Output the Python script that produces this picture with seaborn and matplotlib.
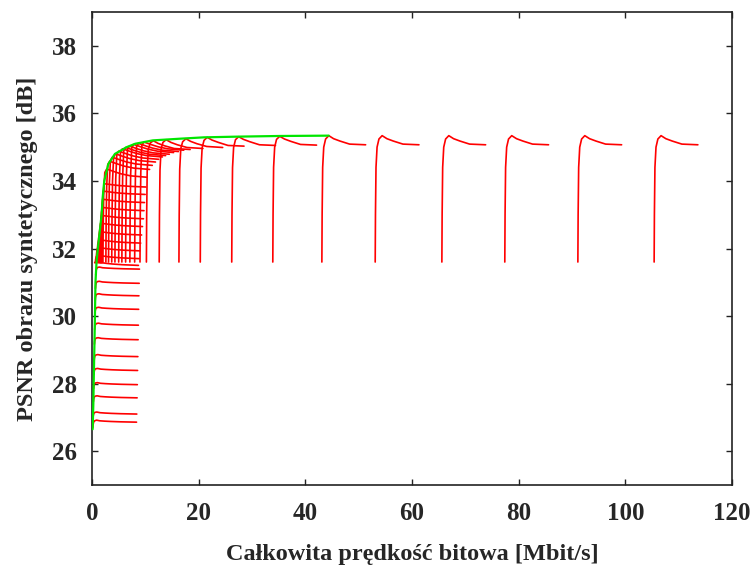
import numpy as np
import pandas as pd
import matplotlib
matplotlib.use("Agg")
import matplotlib.pyplot as plt
import seaborn as sns

# depth bitrate steps (Mbit/s) shared by every curve
rd = [0.00, 0.05, 0.15, 0.35, 0.70, 1.30, 2.20, 3.40, 5.20, 8.20]

# low-quality texture curves (texture bitrate, PSNR per depth step)
rt_low = [0.15, 0.20, 0.26, 0.30, 0.35, 0.40, 0.45, 0.50, 0.55, 0.60, 0.65, 0.70]
psnr_low = [
    [26.70, 26.78, 26.86, 26.90, 26.92, 26.90, 26.89, 26.88, 26.87, 26.86],
    [27.00, 27.06, 27.12, 27.15, 27.16, 27.14, 27.13, 27.12, 27.11, 27.10],
    [27.47, 27.54, 27.60, 27.63, 27.64, 27.62, 27.61, 27.60, 27.59, 27.58],
    [27.86, 27.93, 27.99, 28.02, 28.03, 28.01, 28.00, 27.99, 27.98, 27.97],
    [28.27, 28.35, 28.41, 28.44, 28.45, 28.43, 28.42, 28.41, 28.40, 28.39],
    [28.68, 28.76, 28.82, 28.85, 28.86, 28.84, 28.83, 28.82, 28.81, 28.80],
    [29.17, 29.26, 29.32, 29.35, 29.36, 29.34, 29.33, 29.32, 29.31, 29.30],
    [29.60, 29.69, 29.75, 29.78, 29.79, 29.77, 29.76, 29.75, 29.74, 29.73],
    [30.06, 30.15, 30.22, 30.25, 30.26, 30.24, 30.23, 30.22, 30.21, 30.20],
    [30.46, 30.55, 30.62, 30.65, 30.66, 30.64, 30.63, 30.62, 30.61, 30.60],
    [30.82, 30.92, 30.99, 31.02, 31.03, 31.01, 31.00, 30.99, 30.98, 30.97],
    [31.22, 31.33, 31.40, 31.44, 31.45, 31.43, 31.42, 31.41, 31.40, 31.39],
]

# medium-quality texture curves
rt_mid = [0.50, 0.63, 0.77, 0.93, 1.10, 1.27, 1.45, 1.55, 1.65, 1.77, 1.90]
psnr_mid = [
    [31.58, 31.59, 31.60, 31.60, 31.59, 31.58, 31.56, 31.54, 31.52, 31.50],
    [31.58, 31.68, 31.75, 31.80, 31.79, 31.78, 31.76, 31.74, 31.72, 31.70],
    [31.58, 31.78, 31.94, 32.03, 32.02, 32.01, 31.99, 31.97, 31.95, 31.93],
    [31.58, 31.88, 32.12, 32.26, 32.25, 32.24, 32.22, 32.20, 32.18, 32.16],
    [31.58, 31.98, 32.31, 32.50, 32.49, 32.48, 32.46, 32.44, 32.42, 32.40],
    [31.58, 32.09, 32.51, 32.75, 32.74, 32.73, 32.71, 32.69, 32.67, 32.65],
    [31.58, 32.19, 32.69, 32.98, 32.97, 32.96, 32.94, 32.92, 32.90, 32.88],
    [31.58, 32.29, 32.88, 33.22, 33.21, 33.20, 33.18, 33.16, 33.14, 33.12],
    [31.58, 32.40, 33.07, 33.46, 33.45, 33.44, 33.42, 33.40, 33.38, 33.36],
    [31.58, 32.50, 33.26, 33.70, 33.69, 33.68, 33.66, 33.64, 33.62, 33.60],
    [31.58, 32.60, 33.43, 33.92, 33.91, 33.90, 33.88, 33.86, 33.84, 33.82],
]

# high-quality texture curves
rt_high = [2.05, 2.6, 3.1, 3.7, 4.3, 5.0, 5.6, 6.3, 7.1, 8.0, 9.0, 10.2,
           12.6, 16.3, 20.3, 26.2, 33.9, 43.1, 53.1, 65.6, 77.4, 91.1, 105.4]
psnr_high = [
    [31.60, 32.70, 33.66, 34.25, 34.35, 34.32, 34.27, 34.21, 34.15, 34.11],
    [31.60, 32.79, 33.83, 34.48, 34.58, 34.55, 34.50, 34.44, 34.38, 34.34],
    [31.60, 32.84, 33.92, 34.60, 34.70, 34.67, 34.62, 34.56, 34.50, 34.46],
    [31.60, 32.88, 34.00, 34.70, 34.80, 34.77, 34.72, 34.66, 34.60, 34.56],
    [31.60, 32.91, 34.06, 34.78, 34.88, 34.85, 34.80, 34.74, 34.68, 34.64],
    [31.60, 32.94, 34.11, 34.85, 34.95, 34.92, 34.87, 34.81, 34.75, 34.71],
    [31.60, 32.96, 34.14, 34.89, 34.99, 34.96, 34.91, 34.85, 34.79, 34.75],
    [31.60, 32.97, 34.17, 34.93, 35.03, 35.00, 34.95, 34.89, 34.83, 34.79],
    [31.60, 32.99, 34.21, 34.98, 35.08, 35.05, 35.00, 34.94, 34.88, 34.84],
    [31.60, 33.00, 34.23, 35.01, 35.11, 35.08, 35.03, 34.97, 34.91, 34.87],
    [31.60, 33.02, 34.26, 35.05, 35.15, 35.12, 35.07, 35.01, 34.95, 34.91],
    [31.60, 33.00, 34.30, 34.92, 35.12, 35.19, 35.11, 35.04, 34.96, 34.93],
    [31.60, 33.00, 34.32, 34.94, 35.14, 35.22, 35.14, 35.07, 34.99, 34.96],
    [31.60, 33.00, 34.35, 34.96, 35.16, 35.25, 35.17, 35.10, 35.02, 34.99],
    [31.60, 33.00, 34.38, 34.98, 35.20, 35.29, 35.21, 35.14, 35.05, 35.03],
    [31.60, 33.00, 34.39, 34.99, 35.22, 35.31, 35.23, 35.16, 35.07, 35.05],
    [31.60, 33.00, 34.40, 35.00, 35.23, 35.32, 35.24, 35.17, 35.08, 35.06],
    [31.60, 33.00, 34.40, 35.00, 35.24, 35.34, 35.25, 35.18, 35.09, 35.07],
    [31.60, 33.00, 34.40, 35.00, 35.24, 35.34, 35.25, 35.18, 35.09, 35.07],
    [31.60, 33.00, 34.40, 35.00, 35.24, 35.34, 35.25, 35.18, 35.09, 35.07],
    [31.60, 33.00, 34.40, 35.00, 35.24, 35.34, 35.25, 35.18, 35.09, 35.07],
    [31.60, 33.00, 34.40, 35.00, 35.24, 35.34, 35.25, 35.18, 35.09, 35.07],
    [31.60, 33.00, 34.40, 35.00, 35.24, 35.34, 35.25, 35.18, 35.09, 35.07],
]

# optimal (envelope) curve
env_x = [0.12, 0.25, 0.35, 0.45, 0.55, 0.65, 0.85, 1.10, 1.45, 1.80, 2.00,
         2.30, 3.06, 4.30, 6.50, 8.10, 11.4, 16.5, 21.0, 27.0, 35.0, 44.4]
env_y = [26.65, 27.40, 28.30, 29.10, 30.00, 31.00, 31.60, 32.00, 32.50, 33.00,
         33.50, 34.00, 34.50, 34.80, 35.00, 35.10, 35.20, 35.25, 35.29, 35.31,
         35.33, 35.34]

x_ticks = [0, 20, 40, 60, 80, 100, 120]
y_ticks = [26, 28, 30, 32, 34, 36, 38]

rows = []
cid = 0
for rts, grid in ((rt_low, psnr_low), (rt_mid, psnr_mid), (rt_high, psnr_high)):
    for rt, ps in zip(rts, grid):
        cid += 1
        for d, p in zip(rd, ps):
            rows.append({"curve": cid, "rate": rt + d, "psnr": p})
df = pd.DataFrame(rows)
env = pd.DataFrame({"rate": env_x, "psnr": env_y})

sns.set_style("ticks")
plt.rcParams["font.family"] = ["Liberation Serif", "DejaVu Serif"]
plt.rcParams["font.weight"] = "bold"

fig = plt.figure(figsize=(7.52, 5.68), dpi=100)
ax = fig.add_axes([92 / 752, 1 - 485 / 568, 640 / 752, 473 / 568])

sns.lineplot(data=df, x="rate", y="psnr", units="curve", estimator=None,
             sort=False, color="#ff0000", lw=1.2, ax=ax, legend=False)
sns.lineplot(data=env, x="rate", y="psnr", estimator=None, sort=False,
             color="#00e600", lw=1.6, ax=ax, legend=False, zorder=5)

ax.set_xlim(0, 120)
ax.set_ylim(25, 39)
ax.set_xticks(x_ticks)
ax.set_yticks(y_ticks)
ax.tick_params(direction="in", top=True, right=True, length=4, width=1,
               labelsize=18, color="#222222")
ax.tick_params(axis="x", pad=12)
ax.tick_params(axis="y", pad=11)
for lab in ax.get_xticklabels() + ax.get_yticklabels():
    lab.set_fontweight("bold")
for sp in ax.spines.values():
    sp.set_linewidth(1.2)
    sp.set_color("#222222")

ax.set_xlabel("Całkowita prędkość bitowa [Mbit/s]", fontsize=17.5,
              fontweight="bold", labelpad=14)
ax.set_ylabel("PSNR obrazu syntetycznego [dB]", fontsize=17.5,
              fontweight="bold", labelpad=10)

fig.savefig("out.png", dpi=100)
